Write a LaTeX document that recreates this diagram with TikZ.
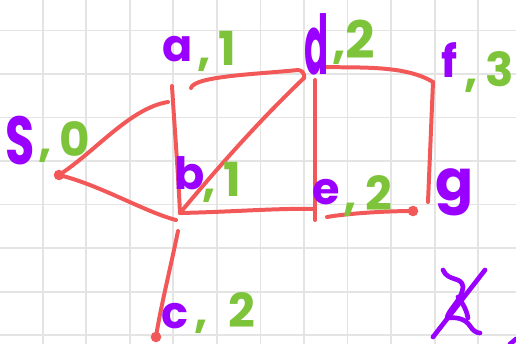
\documentclass[tikz,border=0pt]{standalone}
\usepackage{fontspec}
\setmainfont{Poppins}
\definecolor{inkred}{RGB}{243,88,88}
\definecolor{inkpurple}{RGB}{153,0,255}
\definecolor{inkgreen}{RGB}{125,196,58}
\definecolor{paperline}{RGB}{228,228,228}
\tikzset{
  edge/.style={inkred,line width=3.4pt,line cap=round,line join=round},
  inkdot/.style={inkred,fill=inkred,circle,inner sep=0pt,minimum size=9pt},
  vname/.style={inkpurple,font=\fontsize{38}{38}\selectfont\bfseries,inner sep=0pt},
  vdist/.style={inkgreen,font=\fontsize{40}{40}\selectfont\bfseries,inner sep=0pt},
  scribble/.style={inkpurple,line width=4pt,line cap=round,line join=round},
}
\begin{document}
\begin{tikzpicture}[x=0.03cm,y=-0.03cm]
\useasboundingbox (0,0) rectangle (516,344);
\fill[white] (0,0) rectangle (516,344);

% squared paper
\foreach \k in {0,...,10}
  \draw[paperline,line width=1.5pt] (42.7+43.55*\k,0) -- (42.7+43.55*\k,344);
\foreach \k in {0,...,7}
  \draw[paperline,line width=1.5pt] (0,30.4+43.55*\k) -- (516,30.4+43.55*\k);

% stroke ends
\coordinate (s) at (59,175);
\coordinate (a) at (172,86);
\coordinate (a1) at (168,102);
\coordinate (a2) at (191,88);
\coordinate (b) at (180,213);
\coordinate (b1) at (176,220);
\coordinate (b2) at (178,231);
\coordinate (c) at (156,337);
\coordinate (d) at (304,78);
\coordinate (d1) at (315,80);
\coordinate (d2) at (325,67);
\coordinate (e) at (314,209);
\coordinate (e1) at (315,220);
\coordinate (e2) at (327,217);
\coordinate (f) at (433,82);
\coordinate (g) at (428,202);
\coordinate (g1) at (413,211);

% edges
\draw[edge] (s) .. controls (95,152) and (130,108) .. (a1);
\draw[edge] (s) .. controls (100,185) and (145,212) .. (b1);
\draw[edge] (a) .. controls (174,120) and (178,170) .. (b);
\draw[edge] (a2) .. controls (194,76) and (260,74) .. (298,70) .. controls (302,70) and (305,74) .. (d);
\draw[edge] (b) .. controls (220,165) and (260,120) .. (d);
\draw[edge] (b) .. controls (230,212) and (280,208) .. (e);
\draw[edge] (d1) -- (e1);
\draw[edge] (d2) .. controls (360,68) and (405,65) .. (f);
\draw[edge] (f) -- (g);
\draw[edge] (e2) .. controls (350,213) and (390,211) .. (g1);
\draw[edge] (b2) .. controls (170,270) and (160,310) .. (c);
\node[inkdot] at (s) {};
\node[inkdot] at (c) {};
\node[inkdot] at (g1) {};

% vertex names
\node[vname,font=\fontsize{58}{58}\selectfont\bfseries,anchor=east] (nS) at (35,141) {\scalebox{0.7}[1]{S}};
\node[vname] (nA) at (178,49) {a};
\node[vname,anchor=east] (nD) at (329,44) {\scalebox{0.8}[1.85]{d}};
\node[vname] (nF) at (450,60) {f};
\node[vname] (nB) at (190,173) {b};
\node[vname] (nE) at (326,192) {e};
\node[vname,font=\fontsize{48}{48}\selectfont\bfseries] (nG) at (455,192) {g};
\node[vname] (nC) at (175,316) {c};

% distances
\node[vdist,anchor=west] (dS) at (38,142) {,\,0};
\node[vdist] (dA) at (217,51) {,\,1};
\node[vdist,anchor=west] (dD) at (332,42) {,\scalebox{1.1}{2}};
\node[vdist,anchor=east] (dF) at (514,72) {,\,3};
\node[vdist] (dB) at (222,182) {,\,1};
\node[vdist] (dE) at (368,196) {,\,2};
\node[vdist] (dC) at (225,313) {,\;\,2};

% crossed-out letter
\draw[scribble] (443,270) .. controls (448,282) and (462,276) .. (463,287)
  .. controls (462,300) and (448,310) .. (447,318) .. controls (455,317) and (465,318) .. (470,326)
  .. controls (473,331) and (477,333) .. (480,333);
\draw[scribble] (458,297) .. controls (464,305) and (467,312) .. (468,318);
\draw[scribble] (485,270) -- (433,337);
\draw[scribble] (510,344) -- (516,339);
\end{tikzpicture}
\end{document}
